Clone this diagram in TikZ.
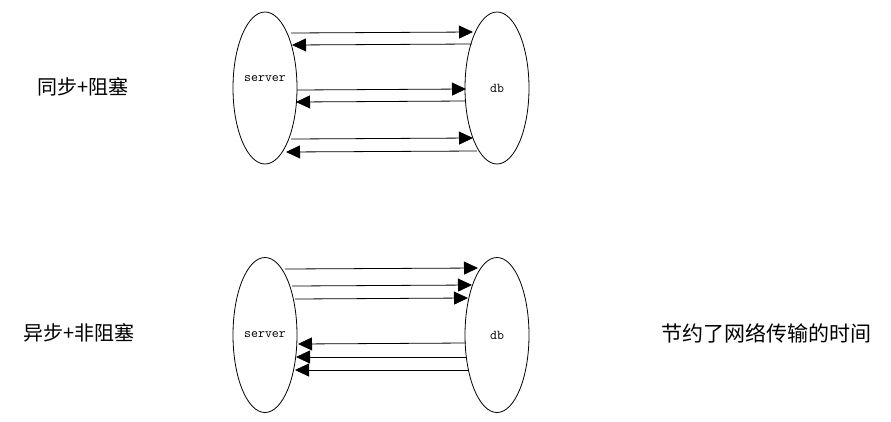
\documentclass[tikz,border=0pt]{standalone}
\usepackage{fontspec}
\newfontfamily\cjk{Noto Sans CJK SC}
\usetikzlibrary{shapes.geometric,arrows.meta}
\begin{document}
\begin{tikzpicture}[x=1pt,y=-1pt,
  proc/.style={draw,ellipse,line width=0.8pt,minimum width=64pt,inner sep=0pt},
  lbl/.style={font=\ttfamily\fontsize{13.5}{15}\selectfont,inner sep=0pt},
  captext/.style={font=\cjk\fontsize{20}{24}\selectfont,inner sep=0pt},
  msg/.style={line width=0.8pt,-{Triangle[length=14pt,width=13pt]}}]
\useasboundingbox (0,0) rectangle (891,421);
% top
\node[proc,minimum height=152pt] (s1) at (265,88) {};
\node[proc,minimum height=152pt] (d1) at (497,88) {};
\node[lbl] (s1t) at (265,79) {server};
\node[lbl] (d1t) at (497,88) {db};
\node[captext] (c1) at (83,87) {同步+阻塞};
\coordinate (t1a) at (291,33);  \coordinate (t1b) at (473,32);
\coordinate (t2a) at (472,44);  \coordinate (t2b) at (292,45);
\coordinate (t3a) at (297,90);  \coordinate (t3b) at (466,89);
\coordinate (t4a) at (466,101); \coordinate (t4b) at (296,102);
\coordinate (t5a) at (291,139); \coordinate (t5b) at (473,138);
\coordinate (t6a) at (477,151); \coordinate (t6b) at (286,152);
\draw[msg] (t1a) -- (t1b);
\draw[msg] (t2a) -- (t2b);
\draw[msg] (t3a) -- (t3b);
\draw[msg] (t4a) -- (t4b);
\draw[msg] (t5a) -- (t5b);
\draw[msg] (t6a) -- (t6b);
% bottom
\node[proc,minimum height=155pt] (s2) at (265,335) {};
\node[proc,minimum height=155pt] (d2) at (497,335) {};
\node[lbl] (s2t) at (265,335) {server};
\node[lbl] (d2t) at (497,335) {db};
\node[captext] (c2) at (79,333) {异步+非阻塞};
\node[captext,font=\cjk\fontsize{21}{24}\selectfont] (c3) at (766,333) {节约了网络传输的时间};
\coordinate (b1a) at (285,269); \coordinate (b1b) at (478,268);
\coordinate (b2a) at (292,286); \coordinate (b2b) at (472,285);
\coordinate (b3a) at (295,299); \coordinate (b3b) at (468,298);
\coordinate (b4a) at (466,343); \coordinate (b4b) at (298,344);
\coordinate (b5a) at (467,357); \coordinate (b5b) at (296,357);
\coordinate (b6a) at (468,370); \coordinate (b6b) at (295,370);
\draw[msg] (b1a) -- (b1b);
\draw[msg] (b2a) -- (b2b);
\draw[msg] (b3a) -- (b3b);
\draw[msg] (b4a) -- (b4b);
\draw[msg] (b5a) -- (b5b);
\draw[msg] (b6a) -- (b6b);
\end{tikzpicture}
\end{document}
